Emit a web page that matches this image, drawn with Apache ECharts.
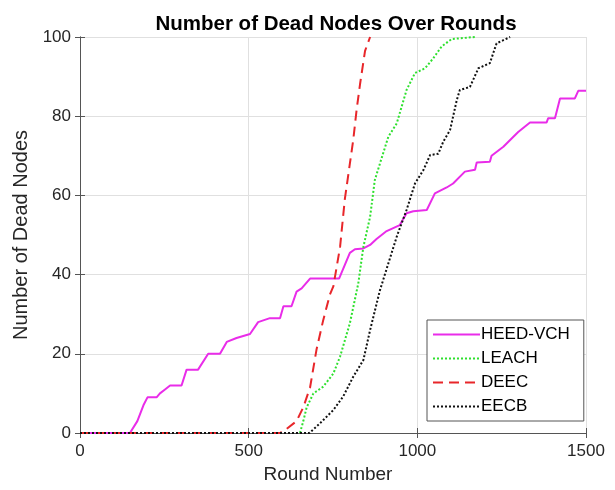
<!DOCTYPE html>
<html>
<head>
<meta charset="utf-8">
<script src="https://cdn.jsdelivr.net/npm/echarts@6/dist/echarts.min.js"></script>
<style>
  html, body { margin: 0; padding: 0; background: #fff; }
  #chart { width: 615px; height: 490px; }
</style>
</head>
<body>
<div id="chart"></div>
<script>
// values (round number, number of dead nodes)
var heedRounds = [0, 148, 170, 188, 200, 227, 237, 252, 267, 301, 316, 350, 380, 415, 435, 464, 504, 528, 563, 593, 603, 627, 642, 657, 682, 768, 800, 815, 840, 860, 879, 909, 948, 968, 988, 1028, 1052, 1087, 1106, 1141, 1171, 1176, 1215, 1220, 1255, 1299, 1334, 1383, 1388, 1408, 1423, 1467, 1477, 1500];
var heedNodes  = [0, 0, 3, 7, 9, 9, 10, 11, 12, 12, 16, 16, 20, 20, 23, 24, 25, 28, 29, 29, 32, 32, 35.7, 36.5, 39, 39, 45.5, 46.4, 46.6, 47.5, 49, 51, 52.5, 55.5, 56, 56.3, 60.5, 62, 63, 66, 66.5, 68.3, 68.5, 70, 72.3, 76, 78.4, 78.4, 79.5, 79.5, 84.5, 84.5, 86.4, 86.4];

var leachRounds = [0, 652, 662, 672, 692, 721, 751, 771, 800, 825, 840, 860, 874, 889, 914, 939, 968, 993, 1023, 1047, 1072, 1102, 1171];
var leachNodes  = [0, 0, 3, 6.5, 10, 11.7, 15, 19.3, 27.7, 37.8, 47, 54.6, 63.9, 68, 74.8, 78.2, 86.6, 90.9, 92.1, 94.6, 97.6, 99.5, 100];

var deecRounds = [0, 593, 612, 642, 662, 682, 701, 721, 741, 751, 771, 785, 800, 810, 820, 830, 845, 860];
var deecNodes  = [0, 0, 1, 3, 6.5, 11.5, 21, 28.5, 35, 37, 47, 59, 68, 74, 81.6, 88, 96.5, 100];

var eecbRounds = [0, 680, 711, 751, 780, 810, 840, 860, 889, 914, 939, 968, 993, 1018, 1038, 1062, 1077, 1097, 1117, 1126, 1156, 1181, 1215, 1235, 1275];
var eecbNodes  = [0, 0, 2.4, 5.8, 9.2, 14.2, 18.4, 26, 36, 42.8, 49.6, 56.3, 63, 66.4, 70.2, 70.5, 73.6, 76.5, 84.1, 86.6, 87.4, 92.1, 93.4, 98.4, 100];

var seriesNames = ['HEED-VCH', 'LEACH', 'DEEC', 'EECB'];
var xTicks = [0, 500, 1000, 1500];
var yTicks = [0, 20, 40, 60, 80, 100];

function pairs(xs, ys) {
    var out = [];
    for (var i = 0; i < xs.length; i++) out.push([xs[i], ys[i]]);
    return out;
}

var font = 'Liberation Sans, Arial, sans-serif';
var ink = '#262626';
var frame = '#555555';

function makeSeries(name, data, color, dash) {
    return {
        name: name,
        type: 'line',
        data: data,
        showSymbol: false,
        symbol: 'none',
        animation: false,
        lineStyle: { color: color, width: 2, type: dash },
        itemStyle: { color: color },
        z: 3
    };
}

// plain box edges (top / right) with inward ticks, like the reference frame
function edgeAxis(base, pos) {
    return Object.assign({}, base, {
        position: pos, name: '',
        axisLabel: { show: false },
        splitLine: { show: false }
    });
}

var xBase = {
    type: 'value', min: 0, max: 1500, interval: 500,
    name: 'Round Number', nameLocation: 'middle', nameGap: 30,
    nameTextStyle: { fontFamily: font, fontSize: 19, color: ink, padding: [0, 10, 0, 0] },
    axisLine: { show: true, lineStyle: { color: frame } },
    axisTick: { show: true, inside: true, length: 5, lineStyle: { color: frame } },
    axisLabel: { fontFamily: font, fontSize: 17, color: ink, margin: 10,
        formatter: function (v) { return xTicks.indexOf(v) >= 0 ? String(v) : ''; } },
    splitLine: { show: true, lineStyle: { color: '#e0e0e0' } }
};
var yBase = {
    type: 'value', min: 0, max: 100, interval: 20,
    name: 'Number of Dead Nodes', nameLocation: 'middle', nameGap: 48,
    nameTextStyle: { fontFamily: font, fontSize: 20, color: ink },
    axisLine: { show: true, lineStyle: { color: frame } },
    axisTick: { show: true, inside: true, length: 5, lineStyle: { color: frame } },
    axisLabel: { fontFamily: font, fontSize: 17, color: ink, margin: 9,
        formatter: function (v) { return yTicks.indexOf(v) >= 0 ? String(v) : ''; } },
    splitLine: { show: true, lineStyle: { color: '#e0e0e0' } }
};

var chart = echarts.init(document.getElementById('chart'));
chart.setOption({
    backgroundColor: '#fff',
    animation: false,
    title: {
        text: 'Number of Dead Nodes Over Rounds',
        left: 331,
        textAlign: 'center',
        top: 9,
        textStyle: { fontFamily: font, fontSize: 20.5, fontWeight: 'bold', color: '#000' }
    },
    grid: { left: 80, right: 29, top: 37, bottom: 57 },
    legend: {
        data: seriesNames,
        orient: 'vertical',
        left: 427, top: 320,
        padding: [6, 14, 6, 5],
        itemGap: 7,
        itemWidth: 47, itemHeight: 18,
        itemStyle: { opacity: 0 },
        borderColor: frame, borderWidth: 1, backgroundColor: '#fff',
        textStyle: { fontFamily: font, fontSize: 17, color: '#000', padding: [0, 0, 0, -4] }
    },
    xAxis: [xBase, edgeAxis(xBase, 'top')],
    yAxis: [yBase, edgeAxis(yBase, 'right')],
    series: [
        makeSeries(seriesNames[0], pairs(heedRounds, heedNodes), '#e92ce9', 'solid'),
        makeSeries(seriesNames[1], pairs(leachRounds, leachNodes), '#2ee02e', [2, 2]),
        makeSeries(seriesNames[2], pairs(deecRounds, deecNodes), '#e8262a', [10, 6]),
        makeSeries(seriesNames[3], pairs(eecbRounds, eecbNodes), '#111111', [2, 2])
    ]
});
</script>
</body>
</html>
